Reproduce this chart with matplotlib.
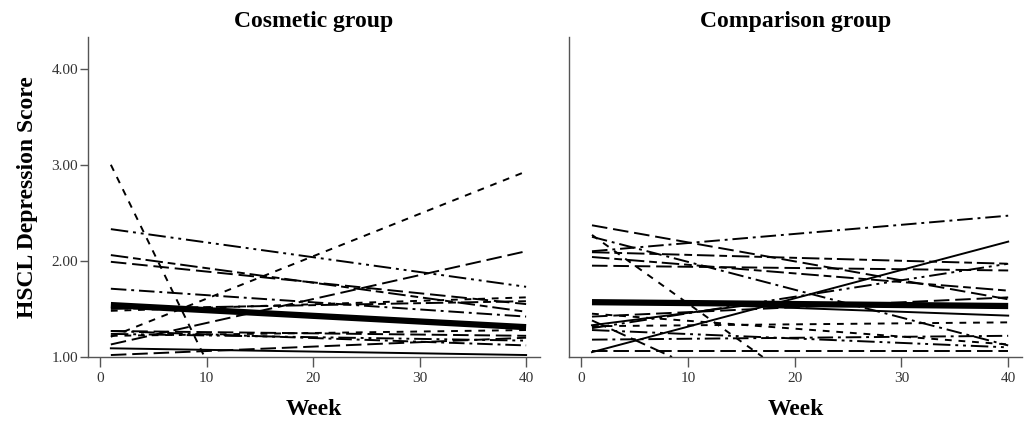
import matplotlib
matplotlib.use("Agg")
import matplotlib.pyplot as plt

plt.rcParams['font.family'] = ['Liberation Serif', 'DejaVu Serif']

# Cosmetic group: one entry per subject (weeks, scores, line style)
cos_weeks = [[1, 9.8], [1, 40], [1, 40], [1, 40], [1, 40], [1, 40], [1, 40], [1, 40],
             [1, 40], [1, 40], [1, 40], [1, 40], [1, 40], [1, 40], [1, 40]]
cos_scores = [[3.00, 1.00], [1.21, 2.93], [1.13, 2.10], [2.33, 1.73], [2.06, 1.47],
              [1.99, 1.55], [1.71, 1.42], [1.48, 1.62], [1.50, 1.58], [1.27, 1.22],
              [1.24, 1.17], [1.22, 1.28], [1.09, 1.02], [1.02, 1.20], [1.27, 1.12]]
cos_styles = ['sd', 'sd', 'ld', 'ddd', 'lds', 'ld', 'dd', 'sd', 'lds', 'ld',
              'ddd', 'sd', 'solid', 'ld', 'dd']
cos_mean_weeks = [1, 40]
cos_mean = [1.54, 1.31]

# Comparison group
cmp_weeks = [[1, 40], [1, 40], [1, 17], [1, 40], [1, 40], [1, 40], [1, 40], [1, 15, 40],
             [1, 40], [1, 8.5], [1, 40], [1, 40], [1, 40], [1, 40], [1, 40], [1, 40], [1, 40]]
cmp_scores = [[2.10, 2.47], [2.37, 1.60], [2.27, 1.00], [2.25, 1.12], [2.04, 1.69],
              [1.95, 1.90], [1.05, 2.20], [1.33, 1.53, 1.43], [1.06, 1.06], [1.38, 1.00],
              [1.30, 1.97], [1.42, 1.62], [1.32, 1.36], [1.18, 1.22], [1.28, 1.10],
              [1.45, 1.13], [2.09, 1.97]]
cmp_styles = ['dd', 'ld', 'sd', 'dd', 'lds', 'ld', 'solid', 'solid', 'ld', 'ld',
              'ddd', 'ld', 'sd', 'dd', 'ddd', 'sd', 'lds']
cmp_mean_weeks = [1, 40]
cmp_mean = [1.57, 1.53]

xticks = [0, 10, 20, 30, 40]
yticks = [1.0, 2.0, 3.0, 4.0]
ytick_labels = ['1.00', '2.00', '3.00', '4.00']

# dash patterns (in units of line width)
dash = {
    'solid': '-',
    'sd': (0, (3.5, 3.5)),
    'ld': (0, (8, 3)),
    'dd': (0, (8, 2.5, 1.5, 2.5)),
    'ddd': (0, (9, 2.5, 1.5, 2.5, 1.5, 2.5)),
    'lds': (0, (9, 2.5, 4, 2.5)),
}

fig = plt.figure(figsize=(10.24, 4.28), dpi=100)
ax1 = fig.add_axes([0.0859, 0.166, 0.4414, 0.7477])
ax2 = fig.add_axes([0.5557, 0.166, 0.4424, 0.7477])

panels = [
    (ax1, 'Cosmetic group', cos_weeks, cos_scores, cos_styles, cos_mean_weeks, cos_mean),
    (ax2, 'Comparison group', cmp_weeks, cmp_scores, cmp_styles, cmp_mean_weeks, cmp_mean),
]

for ax, title, weeks, scores, styles, mw, mean in panels:
    for w, s, st in zip(weeks, scores, styles):
        ax.plot(w, s, color='black', lw=1.4, linestyle=dash[st])
    ax.plot(mw, mean, color='black', lw=4.5, solid_capstyle='butt')

    ax.set_xlim(-1.15, 41.3)
    ax.set_ylim(1.0, 4.33)
    ax.set_xticks(xticks)
    ax.spines['top'].set_visible(False)
    ax.spines['right'].set_visible(False)
    for sp in ('left', 'bottom'):
        ax.spines[sp].set_color('#555555')
        ax.spines[sp].set_linewidth(1.0)
    ax.tick_params(axis='x', length=7, width=1, color='#555555', pad=4,
                   labelsize=11, labelcolor='#333333')
    ax.set_title(title, fontsize=17, fontweight='bold', pad=7)
    ax.set_xlabel('Week', fontsize=17, fontweight='bold', labelpad=10)

ax1.set_yticks(yticks)
ax1.set_yticklabels(ytick_labels)
ax1.tick_params(axis='y', length=6, width=1, color='#555555', pad=1,
                labelsize=11, labelcolor='#333333')
ax1.set_ylabel('HSCL Depression Score', fontsize=17, fontweight='bold', labelpad=10)

ax2.set_yticks([])

fig.savefig('out.png', dpi=100)
